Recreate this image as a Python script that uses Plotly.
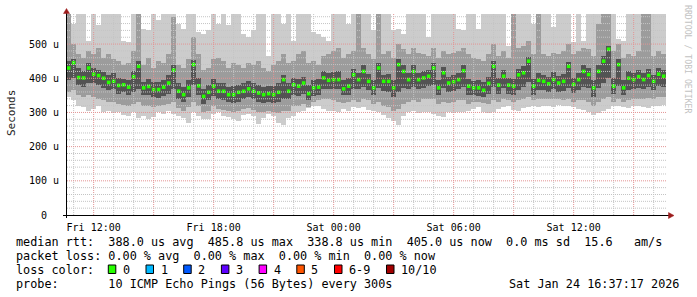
import plotly.graph_objects as go
import pandas as pd

# ---------------- data (microseconds) ----------------
median = [430,445,402,401,430,412,408,400,388,391,
          379,381,374,404,435,372,376,367,367,374,
          386,424,362,352,372,440,378,347,359,377,
          362,362,352,352,359,362,369,362,357,352,
          355,352,359,396,362,381,377,386,355,372,
          374,401,394,396,396,369,377,410,396,420,
          391,372,430,391,391,372,440,420,396,420,
          396,401,406,430,372,416,386,390,396,422,
          377,372,372,365,385,435,380,406,380,377,
          410,416,450,377,394,391,384,396,386,391,
          435,382,396,420,411,372,420,450,485,377,
          440,372,400,396,405,396,408,391,412,406]

inner_lo = [395,400,380,375,385,385,380,372,365,368,
            355,360,352,360,370,350,352,345,342,348,
            355,370,340,330,345,380,350,325,335,348,
            338,335,330,328,332,340,345,338,332,328,
            330,328,330,340,338,350,348,355,335,348,
            352,370,368,370,368,350,352,370,368,375,
            365,350,372,362,360,345,360,372,368,375,
            370,372,378,380,350,372,360,362,368,375,
            352,350,348,345,355,375,355,372,355,352,
            365,375,390,352,365,365,360,368,360,362,
            372,358,365,375,372,345,372,385,400,355,
            378,350,365,368,372,368,375,365,378,375]

inner_hi = [450,455,430,420,445,430,425,418,410,415,
            400,398,395,420,450,390,398,390,388,396,
            410,440,385,375,395,452,400,370,380,398,
            385,385,375,378,380,385,392,386,380,375,
            378,376,385,410,385,400,398,405,380,395,
            398,420,415,418,420,395,400,428,415,440,
            412,395,445,410,412,395,455,438,415,438,
            415,422,425,445,395,432,405,410,415,438,
            398,392,395,388,405,450,400,425,400,398,
            428,435,462,398,415,410,405,418,408,412,
            448,402,415,438,430,395,440,465,495,400,
            455,395,420,415,425,415,428,410,430,425]

mid_lo = [360,365,350,345,350,345,340,335,330,332,
          325,322,318,325,330,320,318,315,320,322,
          325,330,312,305,315,330,318,300,305,318,
          310,308,305,300,305,310,312,308,300,302,
          305,300,298,305,305,318,320,325,315,330,
          335,340,338,335,332,328,330,335,332,340,
          335,325,330,320,315,305,310,325,330,335,
          332,338,340,338,325,330,328,330,335,335,
          325,330,332,328,325,335,330,338,335,332,
          335,340,345,335,338,340,338,340,338,335,
          338,332,335,335,330,320,330,338,345,332,
          338,330,335,338,340,338,342,338,345,345]

mid_hi = [590,500,470,460,480,470,490,460,470,455,
          450,440,445,480,590,440,460,430,450,445,
          470,580,440,430,455,520,470,425,430,455,
          460,450,430,445,440,430,445,440,450,430,
          420,440,450,470,445,450,470,480,445,450,
          440,465,470,480,490,460,470,480,590,490,
          470,455,590,470,480,460,500,485,470,490,
          475,470,465,490,460,480,470,475,480,490,
          470,460,455,450,470,500,465,480,460,590,
          490,495,510,470,590,470,465,475,470,480,
          500,470,480,490,485,465,560,590,590,480,
          500,460,470,465,480,590,590,465,480,470]

outer_lo = [345,335,320,315,305,310,318,300,305,298,
            300,292,290,300,285,290,282,288,300,295,
            305,295,290,285,270,300,290,280,282,295,
            300,290,288,282,275,292,295,290,265,285,
            295,290,268,262,285,290,300,305,312,318,
            318,310,305,305,300,310,305,315,312,315,
            308,305,300,292,285,275,262,290,300,305,
            298,300,302,295,290,288,300,298,302,300,
            305,310,315,302,298,300,310,315,318,308,
            305,312,316,320,315,318,320,315,322,318,
            320,315,310,308,300,292,298,305,310,318,
            320,315,312,318,320,315,312,318,320,322]

outer_hi = [590,560,590,590,510,590,555,590,590,590,
            590,510,505,590,590,545,540,590,570,590,
            590,590,560,545,590,590,535,530,540,590,
            560,590,555,590,590,530,520,540,590,590,
            465,590,590,560,590,510,590,590,590,535,
            530,520,510,590,590,590,560,590,590,590,
            590,540,590,590,590,540,545,530,590,590,
            590,590,520,590,590,590,590,590,545,540,
            590,590,545,590,590,590,590,590,495,590,
            590,590,590,560,590,590,590,550,590,590,
            590,505,590,510,590,590,590,590,590,590,
            515,510,590,590,590,590,590,590,590,590]

y_tick_vals = [0, 100, 200, 300, 400, 500]
y_tick_text = ["0\u00a0\u00a0", "100 u", "200 u", "300 u", "400 u", "500 u"]
x_tick_vals = ["2026-01-23 12:00", "2026-01-23 15:00", "2026-01-23 18:00", "2026-01-23 21:00",
               "2026-01-24 00:00", "2026-01-24 03:00", "2026-01-24 06:00", "2026-01-24 09:00",
               "2026-01-24 12:00", "2026-01-24 15:00"]
x_tick_text = ["Fri 12:00", "", "Fri 18:00", "", "Sat 00:00", "", "Sat 06:00", "", "Sat 12:00", ""]

loss_labels = ["0", "1", "2", "3", "4", "5", "6-9", "10/10"]
loss_colors = ["#26ff00", "#00b8ff", "#0059ff", "#5e00ff", "#ff00ff", "#ff5500", "#ff0000", "#a10000"]

stats_rtt = "median rtt:  388.0 us avg  485.8 us max  338.8 us min  405.0 us now  0.0 ms sd  15.6   am/s"
stats_loss = "packet loss: 0.00 % avg  0.00 % max  0.00 % min  0.00 % now"
probe_text = "probe:       10 ICMP Echo Pings (56 Bytes) every 300s"
stamp_text = "Sat Jan 24 16:37:17 2026"

# ---------------- layout geometry ----------------
W, H = 697, 297
L, R, T, B = 67, 31, 14, 82
PW, PH = W - L - R, H - T - B
MONO = "DejaVu Sans Mono"


def fx(p):
    return (p - L) / PW


def fy(p):
    return (H - B - p) / PH


def nb(s):
    return s.replace(" ", "\u00a0")


times = pd.date_range("2026-01-23 10:45", periods=len(median), freq="15min")

fig = go.Figure()
for lo, hi, col in [(outer_lo, outer_hi, "#cccccc"),
                    (mid_lo, mid_hi, "#9c9c9c"),
                    (inner_lo, inner_hi, "#535353")]:
    fig.add_trace(go.Bar(x=times, base=lo, y=[h - l for h, l in zip(hi, lo)],
                         width=15 * 60 * 1000, marker=dict(color=col, line=dict(width=0)),
                         hoverinfo="skip"))
fig.add_trace(go.Scatter(x=times, y=median, mode="markers",
                         marker=dict(symbol="square", size=3.6, color="#26ff00", line=dict(width=0)),
                         hoverinfo="skip"))

shapes = []
# grid (drawn above the smoke, like rrdtool)
for h in pd.date_range("2026-01-23 11:00", "2026-01-24 16:00", freq="h"):
    major = h.hour % 3 == 0
    shapes.append(dict(type="line", xref="x", yref="paper", x0=h, x1=h, y0=0, y1=1, layer="above",
                       line=dict(color="#e39494" if major else "#c4c4c4", width=1, dash="1px,1px")))
for v in range(20, 588, 20):
    major = v % 100 == 0
    shapes.append(dict(type="line", xref="paper", yref="y", x0=0, x1=1, y0=v, y1=v, layer="above",
                       line=dict(color="#e39494" if major else "#c4c4c4", width=1, dash="1px,1px")))
# axes with arrows
shapes.append(dict(type="line", xref="paper", yref="paper", x0=fx(63), x1=fx(669), y0=fy(215.5), y1=fy(215.5),
                   line=dict(color="black", width=1), layer="above"))
shapes.append(dict(type="line", xref="paper", yref="paper", x0=fx(66.5), x1=fx(66.5), y0=fy(218), y1=fy(12),
                   line=dict(color="black", width=1), layer="above"))
arrow = "#9c1c1c"
shapes.append(dict(type="path", xref="paper", yref="paper", layer="above",
                   path=f"M {fx(66.5)},{fy(8.5)} L {fx(63.5)},{fy(13.5)} L {fx(69.5)},{fy(13.5)} Z",
                   fillcolor=arrow, line=dict(color=arrow, width=0.5)))
shapes.append(dict(type="path", xref="paper", yref="paper", layer="above",
                   path=f"M {fx(674)},{fy(215.5)} L {fx(668.5)},{fy(212.5)} L {fx(668.5)},{fy(218.5)} Z",
                   fillcolor=arrow, line=dict(color=arrow, width=0.5)))

ann = []
LF = dict(family=MONO, size=11.8, color="black")


def text(x, y, s, font=LF, **kw):
    ann.append(dict(xref="paper", yref="paper", x=fx(x), y=fy(y), text=nb(s), showarrow=False,
                    xanchor=kw.get("xanchor", "left"), yanchor="middle", font=font, borderpad=0,
                    textangle=kw.get("textangle", 0)))


text(15, 241.5, stats_rtt)
text(15, 255.5, stats_loss)
text(15, 269.5, "loss color:")
text(15, 283.8, probe_text)
text(508, 283.8, stamp_text)
for i, (lab, col) in enumerate(zip(loss_labels, loss_colors)):
    bx = 108.3 + 37.7 * i if i < 7 else 386.5
    shapes.append(dict(type="rect", xref="paper", yref="paper", x0=fx(bx), x1=fx(bx + 7.5),
                       y0=fy(273.5), y1=fy(265), fillcolor=col, line=dict(color="black", width=1)))
    text(bx + 13.5, 269.5, lab)

text(11, 113, "Seconds", font=dict(family=MONO, size=11, color="#222"), xanchor="center", textangle=-90)
text(688, 59, "RRDTOOL / TOBI OETIKER", font=dict(family=MONO, size=8.2, color="#c2c2c2"),
     xanchor="center", textangle=90)

fig.update_layout(
    width=W, height=H, margin=dict(l=L, r=R, t=T, b=B, pad=0),
    paper_bgcolor="white", plot_bgcolor="white",
    barmode="overlay", bargap=0, showlegend=False,
    shapes=shapes, annotations=ann,
    xaxis=dict(type="date", range=["2026-01-23 10:40", "2026-01-24 16:37"],
               tickvals=x_tick_vals, ticktext=x_tick_text, showgrid=False, zeroline=False,
               showline=False, ticks="outside", ticklen=3, tickcolor="rgba(0,0,0,0)",
               tickfont=dict(family=MONO, size=10, color="black")),
    yaxis=dict(range=[0, 588], tickvals=y_tick_vals, ticktext=y_tick_text, showgrid=False,
               zeroline=False, showline=False, ticks="outside", ticklen=5,
               tickcolor="rgba(0,0,0,0)", tickfont=dict(family=MONO, size=10, color="black")),
)

fig.write_html("out.html")
